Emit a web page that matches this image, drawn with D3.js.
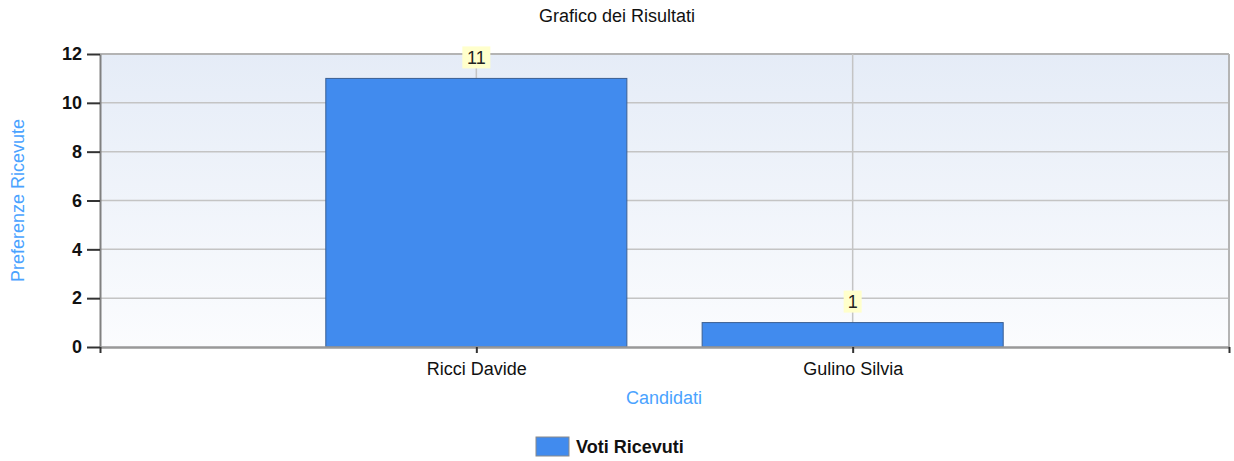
<!DOCTYPE html>
<html>
<head>
<meta charset="utf-8">
<script src="https://cdn.jsdelivr.net/npm/d3@7"></script>
<style>
  body { margin: 0; background: #fff; }
  text { font-family: "Liberation Sans", Arial, sans-serif; }
</style>
</head>
<body>
<div id="canvas"></div>
<script>
const categories = ['Ricci Davide', 'Gulino Silvia'];
const votes = [11, 1];
const yTicks = [0, 2, 4, 6, 8, 10, 12];
const seriesName = 'Voti Ricevuti';

const W = 1234, H = 461;
const pLeft = 100, pRight = 1229, pTop = 54, pBottom = 347;
const barColor = '#418bee', barStroke = '#3b5f91';
const axisBlue = '#4aa3ff';
const fs = '18px';

const Svg = d3.select('#canvas').append('svg')
  .attr('width', W)
  .attr('height', H);

const defs = Svg.append('defs');
const grad = defs.append('linearGradient')
  .attr('id', 'bg')
  .attr('x1', 0).attr('y1', 0).attr('x2', 0).attr('y2', 1);
grad.append('stop').attr('offset', '0%').attr('stop-color', '#e5ecf7');
grad.append('stop').attr('offset', '100%').attr('stop-color', '#fbfcfe');

const xScale = d3.scaleLinear()
  .domain([0, categories.length + 1])
  .range([pLeft, pRight]);

const yScale = d3.scaleLinear()
  .domain([0, 12])
  .range([pBottom, pTop]);

// plot background
Svg.append('rect')
  .attr('x', pLeft).attr('y', pTop)
  .attr('width', pRight - pLeft).attr('height', pBottom - pTop)
  .attr('fill', 'url(#bg)');

// horizontal grid
Svg.append('g').selectAll('line')
  .data(yTicks.filter(d => d > 0))
  .enter().append('line')
  .attr('x1', pLeft).attr('x2', pRight)
  .attr('y1', d => yScale(d)).attr('y2', d => yScale(d))
  .attr('stroke', d => d === 12 ? '#b4b4b4' : '#c4c4c4')
  .attr('stroke-width', d => d === 12 ? 2 : 1.5);

// vertical grid
Svg.append('g').selectAll('line')
  .data(categories)
  .enter().append('line')
  .attr('x1', (d, i) => xScale(i + 1)).attr('x2', (d, i) => xScale(i + 1))
  .attr('y1', pTop).attr('y2', pBottom)
  .attr('stroke', '#c4c4c4')
  .attr('stroke-width', 1.5);

// right border
Svg.append('line')
  .attr('x1', pRight).attr('x2', pRight)
  .attr('y1', pTop).attr('y2', pBottom)
  .attr('stroke', '#b4b4b4').attr('stroke-width', 2);

// bars
Svg.append('g').selectAll('rect')
  .data(votes)
  .enter().append('rect')
  .attr('x', (d, i) => xScale(i + 1 - 0.4))
  .attr('y', d => yScale(d))
  .attr('width', xScale(0.8) - xScale(0))
  .attr('height', d => yScale(0) - yScale(d))
  .attr('fill', barColor)
  .attr('stroke', barStroke)
  .attr('stroke-width', 1);

// value labels
const lab = Svg.append('g').selectAll('g')
  .data(votes)
  .enter().append('g')
  .attr('transform', (d, i) => `translate(${xScale(i + 1)}, ${yScale(d) - 21})`);
lab.append('rect')
  .attr('x', d => -(String(d).length * 10 + 8) / 2)
  .attr('y', -11)
  .attr('width', d => String(d).length * 10 + 8)
  .attr('height', 22)
  .attr('fill', '#ffffcc');
lab.append('text')
  .text(d => d)
  .attr('text-anchor', 'middle')
  .attr('dy', '0.36em')
  .attr('font-size', fs)
  .attr('fill', '#222');

// y axis
const yAxis = d3.axisLeft(yScale)
  .tickValues(yTicks)
  .tickSize(13)
  .tickPadding(5)
  .tickSizeOuter(0);
const gy = Svg.append('g')
  .attr('transform', `translate(${pLeft}, 0)`)
  .call(yAxis);
gy.select('.domain').attr('stroke', '#808080').attr('stroke-width', 2);
gy.selectAll('.tick line').attr('stroke', '#333').attr('stroke-width', 2);
gy.selectAll('.tick text')
  .attr('font-size', fs)
  .attr('font-weight', 'bold')
  .attr('fill', '#111')
  .style('font-family', '"Liberation Sans", Arial, sans-serif');

// x axis
const xAxis = d3.axisBottom(xScale)
  .tickValues(d3.range(0, categories.length + 2))
  .tickFormat(d => categories[d - 1] || '')
  .tickSize(6)
  .tickPadding(9)
  .tickSizeOuter(0);
const gx = Svg.append('g')
  .attr('transform', `translate(0, ${pBottom})`)
  .call(xAxis);
gx.select('.domain').attr('stroke', '#999').attr('stroke-width', 2.5);
gx.selectAll('.tick line').attr('stroke', '#333').attr('stroke-width', 2);
gx.selectAll('.tick text')
  .attr('font-size', fs)
  .attr('fill', '#111')
  .style('font-family', '"Liberation Sans", Arial, sans-serif');

// titles
Svg.append('text')
  .text('Grafico dei Risultati')
  .attr('x', 617).attr('y', 22)
  .attr('text-anchor', 'middle')
  .attr('font-size', fs)
  .attr('fill', '#111');

Svg.append('text')
  .text('Candidati')
  .attr('x', 664).attr('y', 404)
  .attr('text-anchor', 'middle')
  .attr('font-size', fs)
  .attr('fill', axisBlue);

Svg.append('text')
  .text('Preferenze Ricevute')
  .attr('transform', `translate(24, ${(pTop + pBottom) / 2}) rotate(-90)`)
  .attr('text-anchor', 'middle')
  .attr('font-size', fs)
  .attr('fill', axisBlue);

// legend
const lg = Svg.append('g').attr('transform', 'translate(536, 437)');
lg.append('rect')
  .attr('width', 33).attr('height', 19)
  .attr('fill', barColor)
  .attr('stroke', '#8a8a8a');
lg.append('text')
  .text(seriesName)
  .attr('x', 40).attr('y', 16)
  .attr('font-size', fs)
  .attr('font-weight', 'bold')
  .attr('fill', '#111');
</script>
</body>
</html>
